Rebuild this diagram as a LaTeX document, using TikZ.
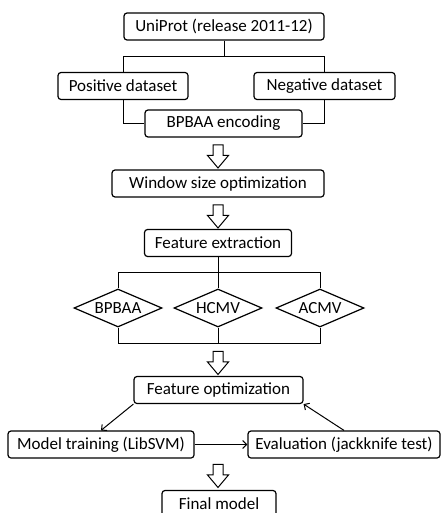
\documentclass[tikz,border=0pt]{standalone}
\usepackage{fontspec}
\setmainfont{Carlito}
\usetikzlibrary{shapes.geometric,shapes.arrows,arrows.meta,calc}
\def\lw{1.2pt}
\tikzset{
	box/.style={
		rectangle,
		draw=black,
		line width=\lw,
		rounded corners=3pt,
		align=center,
		minimum height=27pt,
		inner xsep=2pt,
		inner ysep=2pt,
		font=\fontsize{17}{20}\selectfont,
	},
	feat/.style={
		diamond,
		draw=black,
		line width=\lw,
		aspect=2.3,
		minimum width=88pt,
		minimum height=38pt,
		inner sep=0pt,
		font=\fontsize{17}{20}\selectfont,
	},
	hollow/.style={
		single arrow,
		draw=black,
		line width=1pt,
		shape border rotate=270,
		minimum height=23pt,
		single arrow head extend=5.5pt,
		single arrow tip angle=80,
		inner sep=4.5pt,
	},
	link/.style={line width=1pt},
	flow/.style={line width=1pt, -{Straight Barb[length=4pt,width=8pt]}},
}

\begin{document}
\begin{tikzpicture}[x=1pt, y=-1pt]
	\useasboundingbox (0,0) rectangle (446,513);

	% data collection
	\node[box, minimum width=200pt] (uni) at (224,26.5) {UniProt (release 2011-12)};
	\node[box, minimum width=130pt] (pos) at (123,86) {Positive dataset};
	\node[box, minimum width=141pt] (neg) at (324.5,86) {Negative dataset};
	\node[box, minimum width=157pt] (enc) at (223.5,123.5) {BPBAA encoding};

	\draw[link] (uni.south) -- ++(0,16) coordinate (ux);
	\draw[link] (pos.north) |- (ux) -| (neg.north);
	\draw[link] (pos.south) |- (enc.west);
	\draw[link] (neg.south) |- (enc.east);

	\node[hollow] (a1) at (218,153.5) {};
	\node[box, minimum width=212pt] (win) at (218,183.5) {Window size optimization};
	\node[hollow] (a2) at (218,213.5) {};
	\node[box, minimum width=147pt] (fext) at (218,243) {Feature extraction};

	% features
	\node[feat] (d1) at (118,308) {BPBAA};
	\node[feat] (d2) at (218,308) {HCMV};
	\node[feat] (d3) at (320,308) {ACMV};

	\draw[link] (fext.south) -- (d2.north);
	\coordinate (fx) at ($(fext.south)!0.5!(d2.north)$);
	\draw[link] (d1.north) |- (fx) -| (d3.north);
	\draw[link] (d2.south) -- ++(0,16) coordinate (dx);
	\draw[link] (d1.south) |- (dx) -| (d3.south);

	\node[hollow] (a3) at (218,360) {};
	\node[box, minimum width=169pt] (fopt) at (218.5,390) {Feature optimization};

	% training loop
	\node[box, minimum width=186pt] (train) at (101,444.5) {Model training (LibSVM)};
	\node[box, minimum width=192pt] (eval) at (344,444.5) {Evaluation (jackknife test)};

	\draw[flow] (fopt.south west) -- (train.north);
	\draw[flow] (train.east) -- (eval.west);
	\draw[flow] (eval.north) -- (fopt.south east);

	\node[hollow] (a4) at (218,473) {};
	\node[box, minimum width=114pt] (final) at (219,504) {Final model};
\end{tikzpicture}
\end{document}
